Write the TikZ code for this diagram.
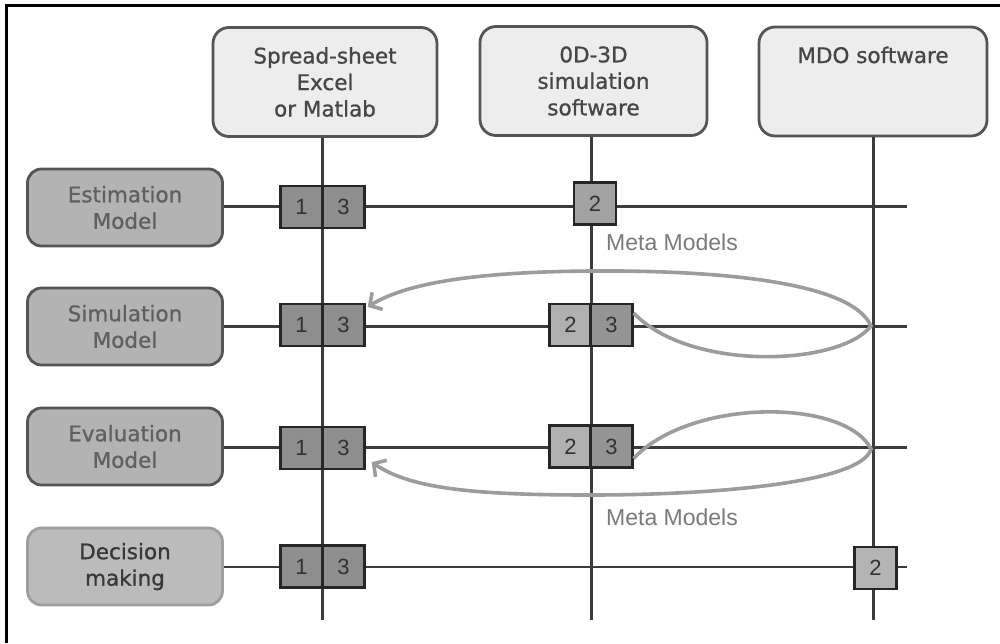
\documentclass[tikz,border=0pt]{standalone}
\usepackage{fontspec}
\setmainfont{DejaVu Sans}[BoldFont={DejaVu Sans},BoldFeatures={FakeBold=0.9}]
\newfontfamily\arialfont{Liberation Sans}
\usetikzlibrary{arrows.meta,calc}
\definecolor{boxline}{HTML}{555555}
\definecolor{topfill}{HTML}{EDEDED}
\definecolor{toptext}{HTML}{464646}
\definecolor{leftfill}{HTML}{B3B3B3}
\definecolor{lefttext}{HTML}{606060}
\definecolor{decfill}{HTML}{BBBBBB}
\definecolor{gridline}{HTML}{3C3C3C}
\definecolor{sqdark}{HTML}{8E8E8E}
\definecolor{sqlight}{HTML}{B0B0B0}
\definecolor{loopcol}{HTML}{9C9C9C}
\definecolor{metatext}{HTML}{7A7A7A}
\begin{document}
\begin{tikzpicture}[x=1pt,y=-1pt,
  boxfont/.style={font=\fontsize{21.5}{26.5}\selectfont\bfseries},
  topbox/.style={boxfont, draw=boxline, line width=2.8pt, fill=topfill, text=toptext,
    rounded corners=16pt, minimum width=224pt, minimum height=109pt, inner sep=0pt, align=center},
  leftbox/.style={boxfont, draw=boxline, line width=2.8pt, fill=leftfill, text=lefttext,
    rounded corners=14pt, minimum width=195pt, minimum height=77pt, inner sep=0pt, align=center},
  sq/.style={draw=black!85, line width=2.3pt, minimum width=42pt, minimum height=42pt,
    inner sep=0pt, font=\arialfont\fontsize{22}{22}\selectfont, text=black!80},
  grid/.style={draw=gridline, line width=3pt},
  loop/.style={draw=loopcol, line width=3.6pt},
  metalabel/.style={font=\arialfont\fontsize{23}{23}\selectfont, text=metatext}
]
\useasboundingbox (0,0) rectangle (1000,643);
\fill[white] (0,0) rectangle (1000,643);
% outer frame
\draw[line width=3pt, black] (6,643) -- (6,5) -- (1000,5);

% top boxes
\node[topbox] (ss) at (325,82) {Spread-sheet\\Excel\\or Matlab};
\node[topbox, minimum width=227pt] (sim) at (593.5,81) {0D-3D\\simulation\\software};
\node[topbox, minimum width=228pt] (mdo) at (873,81.5) {};
\node[boxfont, text=toptext] (mdotext) at (873,55) {MDO software};

% left boxes
\node[leftbox] (est) at (125,207.5) {Estimation\\Model};
\node[leftbox] (smod) at (125,326.5) {Simulation\\Model};
\node[leftbox] (emod) at (125,446.5) {Evaluation\\Model};
\node[leftbox, fill=decfill, draw=black!38, text=black!78] (dec) at (125,566.5) {Decision\\making};

% grid ends
\coordinate (v1) at (322,620);
\coordinate (v2) at (591,620);
\coordinate (v3) at (873,620);
\coordinate (h1) at (907,206);
\coordinate (h2) at (907,326);
\coordinate (h3) at (907,447);
\coordinate (h4) at (907,567);

\draw[grid] (ss.south -| v1) -- (v1);
\draw[grid] (sim.south -| v2) -- (v2);
\draw[grid] (mdo.south -| v3) -- (v3);
\draw[grid] (est.east |- h1) -- (h1);
\draw[grid] (smod.east |- h2) -- (h2);
\draw[grid] (emod.east |- h3) -- (h3);
\draw[grid, line width=2.4pt] (dec.east |- h4) -- (h4);

% squares column 1
\node[sq, fill=sqdark] (a1) at (301.5,207) {1};
\node[sq, fill=sqdark] (a3) at (343.5,207) {3};
\node[sq, fill=sqdark] (b1) at (301.5,325) {1};
\node[sq, fill=sqdark] (b3) at (343.5,325) {3};
\node[sq, fill=sqdark] (c1) at (301.5,448) {1};
\node[sq, fill=sqdark] (c3) at (343.5,448) {3};
\node[sq, fill=sqdark] (d1) at (301.5,566.5) {1};
\node[sq, fill=sqdark] (d3) at (343.5,566.5) {3};
% squares column 2
\node[sq, fill=sqlight!92!black] (a2) at (595,203.5) {2};
\node[sq, fill=sqlight] (bb2) at (570.5,325) {2};
\node[sq, fill=sqdark!95] (bb3) at (611.5,325) {3};
\node[sq, fill=sqlight] (cc2) at (570.5,446.5) {2};
\node[sq, fill=sqdark!95] (cc3) at (611.5,446.5) {3};
% square column 3
\node[sq, fill=sqlight!95!white] (dd2) at (875.5,568) {2};

% meta model labels
\node[metalabel] (meta1) at (672,242) {Meta Models};
\node[metalabel] (meta2) at (672,517) {Meta Models};

% loops
\coordinate (tipA) at (871,326);
\coordinate (tipB) at (871,449);
\draw[loop, -{Straight Barb[length=9pt,width=20pt]}]
  ([yshift=12pt]bb3.east) .. controls (690,372) and (840,366) .. (tipA)
  .. controls (852,282) and (720,270) .. (590,271)
  .. controls (470,272) and (405,284) .. ([xshift=2pt,yshift=-4pt]b3.north east);
\draw[loop, -{Straight Barb[length=9pt,width=20pt]}]
  ([yshift=-12pt]cc3.east) .. controls (690,398) and (845,398) .. (tipB)
  .. controls (862,482) and (720,495) .. (590,495)
  .. controls (470,495) and (410,488) .. ([xshift=6pt,yshift=8pt]c3.south east);
\end{tikzpicture}
\end{document}
